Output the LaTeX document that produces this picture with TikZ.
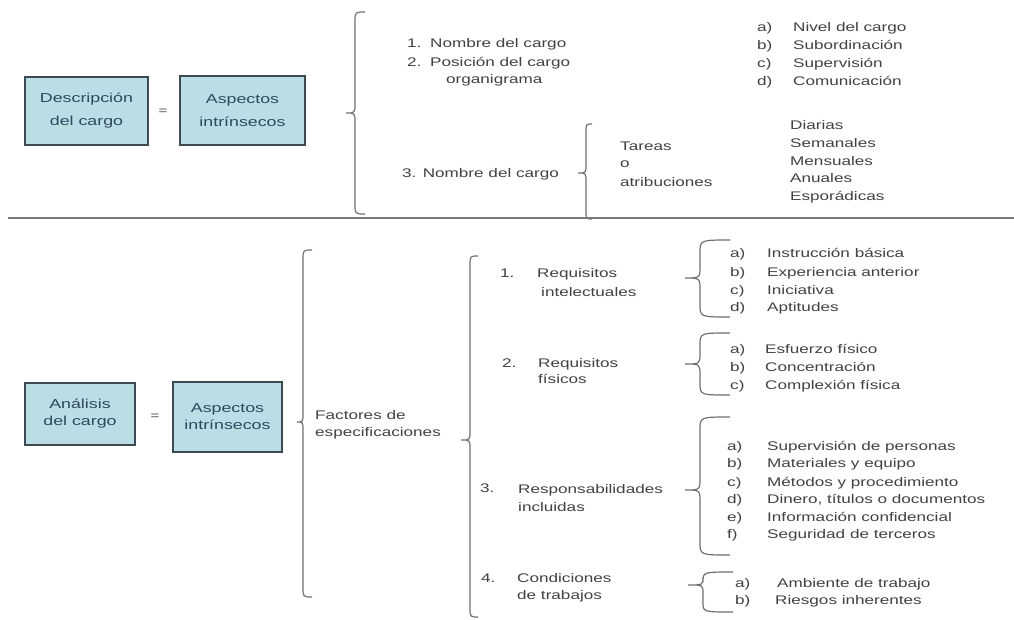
\documentclass[tikz,border=0pt]{standalone}
\usepackage{fontspec}
\setmainfont[FakeStretch=1.37]{Liberation Sans}
\definecolor{boxfill}{HTML}{BADDE6}
\definecolor{boxline}{HTML}{3E4A52}
\definecolor{boxtext}{HTML}{2E4A58}
\definecolor{ink}{HTML}{424242}
\definecolor{bracecol}{HTML}{707070}
\definecolor{rulecol}{HTML}{7A7A7A}

% curly brace opening to the right:
% #1 end x, #2 bar x, #3 tip x, #4 top y, #5 tip y, #6 bottom y, #7 end radius, #8 tip radius
\newcommand\curlybrace[8]{%
  \draw[brace] (#1,#4) .. controls (#2,#4) .. (#2,#4+#7) -- (#2,#5-#8)
    .. controls (#2,#5) .. (#3,#5) .. controls (#2,#5) .. (#2,#5+#8)
    -- (#2,#6-#7) .. controls (#2,#6) .. (#1,#6);}

\tikzset{
  lbl/.style={anchor=base west, inner sep=0pt, text=ink, font=\fontsize{12.5}{15}\selectfont},
  keybox/.style={draw=boxline, line width=1.4pt, fill=boxfill, text=boxtext,
                 align=center, inner sep=0pt},
  brace/.style={draw=bracecol, line width=1.2pt},
  eqsign/.style={inner sep=0pt, text=ink, font=\fontsize{11}{13}\selectfont},
}

\begin{document}
\begin{tikzpicture}[x=1pt,y=-1pt]
\useasboundingbox (0,0) rectangle (1014,619);
\fill[white] (0,0) rectangle (1014,619);

% ---------------- job description ----------------
\node[keybox, minimum width=123pt, minimum height=68pt,
      font=\fontsize{13}{23}\selectfont] (desc) at (86.5,111) {Descripción\\del cargo};
\node[eqsign] (eq1) at (163,112) {=};
\node[keybox, minimum width=125pt, minimum height=69pt,
      font=\fontsize{13}{23}\selectfont] (asp1) at (242.5,110.5) {Aspectos\\intrínsecos};

\curlybrace{365}{355}{346}{12}{113}{214}{10}{10}

\node[lbl] (d1n) at (407,47.5) {1.};
\node[lbl] (d1t) at (430,47.5) {Nombre del cargo};
\node[lbl] (d2n) at (407,66.5) {2.};
\node[lbl] (d2t) at (430,66.5) {Posición del cargo};
\node[lbl] (d2u) at (446,83.5) {organigrama};
\node[lbl] (d3t) at (402,177.5) {3. Nombre del cargo};

\foreach \lab/\txt/\yy [count=\i] in {a)/Nivel del cargo/31.5, b)/Subordinación/49.5,
    c)/Supervisión/67.5, d)/Comunicación/85.5}{
  \node[lbl] (lv\i) at (757,\yy) {\lab};
  \node[lbl] (lt\i) at (793,\yy) {\txt};
}

\curlybrace{592}{586}{578}{124}{173}{219}{9}{9}

\node[lbl] (ta1) at (620,150.5) {Tareas};
\node[lbl] (ta2) at (620,167.5) {o};
\node[lbl] (ta3) at (620,186.5) {atribuciones};

\foreach \txt/\yy [count=\i] in {Diarias/129.5, Semanales/147.5, Mensuales/165.5,
    Anuales/182.5, Esporádicas/200.5}{
  \node[lbl] (fr\i) at (790,\yy) {\txt};
}

% separating rule
\draw[rulecol, line width=2pt] (8,218) -- (1014,218);

% ---------------- job analysis ----------------
\node[keybox, minimum width=110pt, minimum height=62pt,
      font=\fontsize{13}{17}\selectfont] (anal) at (80,414) {Análisis\\del cargo};
\node[eqsign] (eq2) at (155,417) {=};
\node[keybox, minimum width=109pt, minimum height=70pt,
      font=\fontsize{13}{17}\selectfont] (asp2) at (227.5,417) {Aspectos\\intrínsecos};

\curlybrace{312}{303}{297}{250}{422}{597}{10}{9}

\node[lbl] (fa1) at (315,419.5) {Factores de};
\node[lbl] (fa2) at (315,436.5) {especificaciones};

\curlybrace{478}{470}{461}{256}{440}{617}{10}{9}

\node[lbl] (r1n) at (500,277.5) {1.};
\node[lbl] (r1a) at (537,277.5) {Requisitos};
\node[lbl] (r1b) at (541,296.5) {intelectuales};
\node[lbl] (r2n) at (502,367.5) {2.};
\node[lbl] (r2a) at (538,367.5) {Requisitos};
\node[lbl] (r2b) at (538,383.5) {físicos};
\node[lbl] (r3n) at (480,492.5) {3.};
\node[lbl] (r3a) at (518,493.5) {Responsabilidades};
\node[lbl] (r3b) at (518,511.5) {incluidas};
\node[lbl] (r4n) at (481,582.5) {4.};
\node[lbl] (r4a) at (517,582.5) {Condiciones};
\node[lbl] (r4b) at (517,599.5) {de trabajos};

% intellectual requirements
\curlybrace{730}{700}{685}{240}{278}{317}{13}{12}
\foreach \lab/\txt/\yy [count=\i] in {a)/Instrucción básica/257.5,
    b)/Experiencia anterior/276.5, c)/Iniciativa/294.5, d)/Aptitudes/311.5}{
  \node[lbl] (ia\i) at (730,\yy) {\lab};
  \node[lbl] (ib\i) at (767,\yy) {\txt};
}

% physical requirements
\curlybrace{730}{700}{685}{333}{364}{395}{12}{11}
\foreach \lab/\txt/\yy [count=\i] in {a)/Esfuerzo físico/353.5,
    b)/Concentración/371.5, c)/Complexión física/389.5}{
  \node[lbl] (pa\i) at (730,\yy) {\lab};
  \node[lbl] (pb\i) at (765,\yy) {\txt};
}

% responsibilities
\curlybrace{730}{700}{685}{417}{490}{555}{13}{12}
\foreach \lab/\txt/\yy [count=\i] in {a)/Supervisión de personas/450.5,
    b)/Materiales y equipo/467.5, c)/Métodos y procedimiento/486.5,
    d)/{Dinero, títulos o documentos}/503.5, e)/Información confidencial/521.5,
    f)/Seguridad de terceros/538.5}{
  \node[lbl] (sa\i) at (727,\yy) {\lab};
  \node[lbl] (sb\i) at (767,\yy) {\txt};
}

% working conditions
\curlybrace{733}{703}{688}{572}{585}{612}{10}{8}
\node[lbl] (ca1) at (735,587.5) {a)};
\node[lbl] (cb1) at (777,587.5) {Ambiente de trabajo};
\node[lbl] (ca2) at (735,604.5) {b)};
\node[lbl] (cb2) at (775,604.5) {Riesgos inherentes};
\end{tikzpicture}
\end{document}
